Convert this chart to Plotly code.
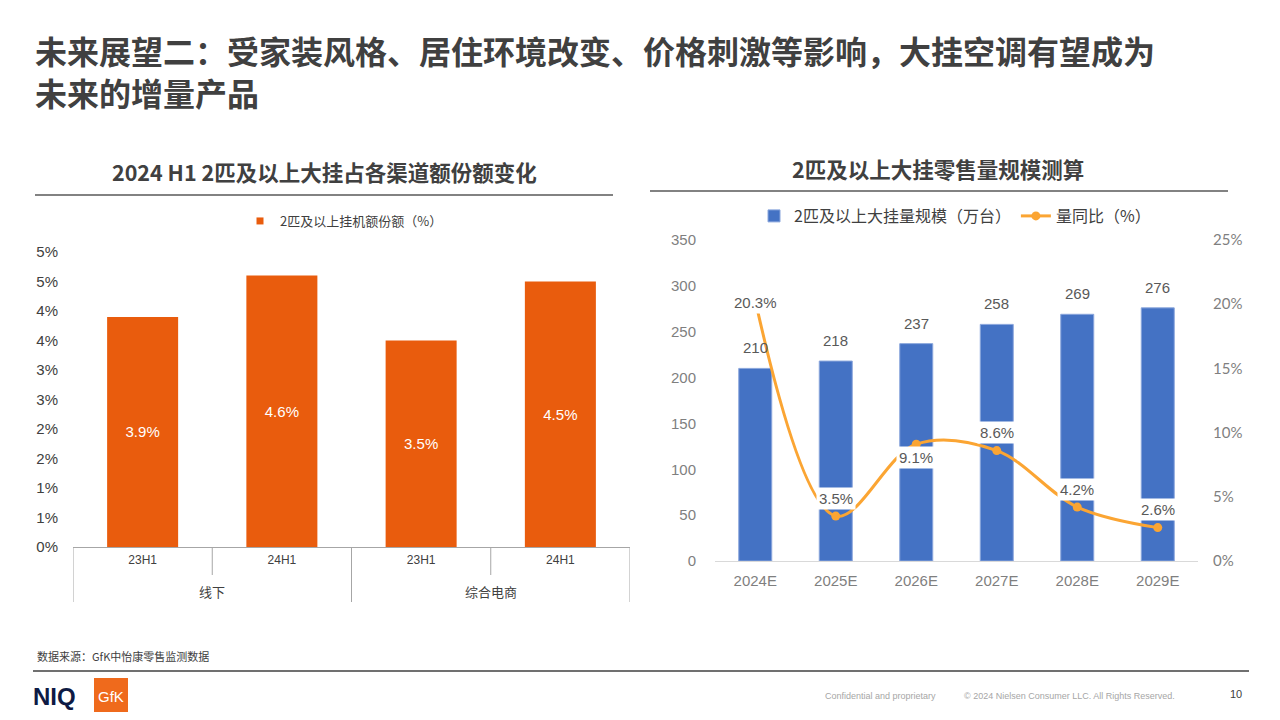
import plotly.graph_objects as go

# ---------------- data ----------------
main_title_lines = [
    "未来展望二：受家装风格、居住环境改变、价格刺激等影响，大挂空调有望成为",
    "未来的增量产品",
]

left_title = "2024 H1 2匹及以上大挂占各渠道额份额变化"
left_series_name = "2匹及以上挂机额份额（%）"
left_periods = ["23H1", "24H1", "23H1", "24H1"]
left_groups = ["线下", "综合电商"]
left_values = [3.9, 4.6, 3.5, 4.5]
left_ytick_vals = [0, 0.5, 1, 1.5, 2, 2.5, 3, 3.5, 4, 4.5, 5]
left_ytick_text = ["0%", "1%", "1%", "2%", "2%", "3%", "3%", "4%", "4%", "5%", "5%"]

right_title = "2匹及以上大挂零售量规模测算"
right_bar_name = "2匹及以上大挂量规模（万台）"
right_line_name = "量同比（%）"
right_years = ["2024E", "2025E", "2026E", "2027E", "2028E", "2029E"]
right_volume = [210, 218, 237, 258, 269, 276]
right_yoy = [20.3, 3.5, 9.1, 8.6, 4.2, 2.6]
right_yoy_label_shift = [-2, 18, -13, 18, 18, 18]

source_text = "数据来源：GfK中怡康零售监测数据"
footer_conf = "Confidential and proprietary"
footer_copy = "© 2024 Nielsen Consumer LLC. All Rights Reserved."
page_no = "10"

# ---------------- style ----------------
OFF = 8                      # browser body margin
W, H = 1280 - 2 * OFF, 720 - 2 * OFF
CJK = "Noto Sans CJK SC"
SANS = "Liberation Sans, Arial, Noto Sans CJK SC"
ORANGE = "#E95C0D"
BLUE = "#4472C4"
LINE_ORANGE = "#FBA533"
DARK = "#404040"
GREY = "#7F7F7F"


def px_x(x):
    return (x - OFF) / W


def px_y(y):
    return 1 - (y - OFF) / H


fig = go.Figure()

# ---------------- left chart ----------------
left_x = list(range(len(left_values)))
fig.add_trace(go.Bar(
    x=left_x, y=left_values, name=left_series_name,
    marker=dict(color=ORANGE, line=dict(width=0)),
    width=0.51,
    text=[f"{v:.1f}%" for v in left_values],
    textposition="inside", insidetextanchor="middle",
    textfont=dict(color="white", size=15, family=SANS),
    xaxis="x", yaxis="y", showlegend=False,
    hoverinfo="skip",
))
# legend entry (small square swatch)
fig.add_trace(go.Scatter(
    x=[None], y=[None], mode="markers", name=left_series_name,
    marker=dict(symbol="square", size=7, color=ORANGE),
    xaxis="x", yaxis="y", legend="legend",
))

# ---------------- right chart ----------------
fig.add_trace(go.Bar(
    x=right_years, y=right_volume, name=right_bar_name,
    marker=dict(color=BLUE, line=dict(color="#8AA6DC", width=1)),
    width=0.41,
    xaxis="x2", yaxis="y2", legend="legend2",
    hoverinfo="skip",
))
fig.add_trace(go.Scatter(
    x=right_years, y=right_yoy, name=right_line_name,
    mode="lines+markers",
    line=dict(color=LINE_ORANGE, width=3, shape="spline", smoothing=1.0),
    marker=dict(color=LINE_ORANGE, size=9),
    xaxis="x2", yaxis="y3", legend="legend2",
    hoverinfo="skip",
))

annotations = []
for yr, v in zip(right_years, right_volume):
    annotations.append(dict(
        x=yr, y=v, xref="x2", yref="y2", text=str(v), showarrow=False,
        yanchor="bottom", yshift=10,
        font=dict(size=15, color="#595959", family=SANS),
    ))
for yr, v, s in zip(right_years, right_yoy, right_yoy_label_shift):
    annotations.append(dict(
        x=yr, y=v, xref="x2", yref="y3", text=f"{v:.1f}%", showarrow=False,
        yanchor="middle", yshift=s, bgcolor="white", borderpad=2,
        font=dict(size=15, color="#595959", family=SANS),
    ))

n_per_group = len(left_values) // len(left_groups)
for gi, g in enumerate(left_groups):
    center = gi * n_per_group + (n_per_group - 1) / 2
    annotations.append(dict(
        x=center, y=px_y(591), xref="x", yref="paper", text=g, showarrow=False,
        yanchor="middle", font=dict(size=13, color=DARK, family=CJK),
    ))

title_y = [50, 92]
for line, ty in zip(main_title_lines, title_y):
    annotations.append(dict(
        x=px_x(34), y=px_y(ty), xref="paper", yref="paper", text=line,
        showarrow=False, xanchor="left", yanchor="middle", borderpad=0,
        font=dict(size=32, color=DARK, family=CJK, weight="bold")))

annotations += [
    dict(x=px_x(324), y=px_y(172), xref="paper", yref="paper", text=left_title,
         showarrow=False, xanchor="center", yanchor="middle",
         font=dict(size=21.5, color=DARK, family=CJK, weight="bold")),
    dict(x=px_x(938), y=px_y(168), xref="paper", yref="paper", text=right_title,
         showarrow=False, xanchor="center", yanchor="middle",
         font=dict(size=21.5, color=DARK, family=CJK, weight="bold")),
    dict(x=px_x(35), y=px_y(656), xref="paper", yref="paper", text=source_text,
         showarrow=False, xanchor="left", yanchor="middle",
         font=dict(size=11, color=DARK, family=CJK)),
    dict(x=px_x(823), y=px_y(696), xref="paper", yref="paper", text=footer_conf,
         showarrow=False, xanchor="left", yanchor="middle",
         font=dict(size=9, color="#A6A6A6", family="Liberation Sans Narrow, Liberation Sans")),
    dict(x=px_x(962), y=px_y(696), xref="paper", yref="paper", text=footer_copy,
         showarrow=False, xanchor="left", yanchor="middle",
         font=dict(size=9, color="#A6A6A6", family="Liberation Sans Narrow, Liberation Sans")),
    dict(x=px_x(1244), y=px_y(694), xref="paper", yref="paper", text=page_no,
         showarrow=False, xanchor="right", yanchor="middle",
         font=dict(size=11, color=DARK, family=SANS)),
    dict(x=px_x(31), y=px_y(696), xref="paper", yref="paper", text="<b>NIQ</b>",
         showarrow=False, xanchor="left", yanchor="middle",
         font=dict(size=24, color="#0E1A44", family="Liberation Sans")),
    dict(x=px_x(111), y=px_y(696), xref="paper", yref="paper", text="GfK",
         showarrow=False, xanchor="center", yanchor="middle",
         font=dict(size=15, color="white", family="Liberation Sans Narrow, Liberation Sans")),
]

shapes = []
shapes.append(dict(type="line", xref="paper", yref="paper",
                   x0=px_x(35), x1=px_x(613), y0=px_y(195), y1=px_y(195),
                   line=dict(color="#595959", width=1.3)))
shapes.append(dict(type="line", xref="paper", yref="paper",
                   x0=px_x(650), x1=px_x(1228), y0=px_y(191), y1=px_y(191),
                   line=dict(color="#595959", width=1.3)))
shapes.append(dict(type="line", xref="paper", yref="paper",
                   x0=px_x(33), x1=px_x(1249), y0=px_y(671), y1=px_y(671),
                   line=dict(color="#404040", width=1.5)))
shapes.append(dict(type="rect", xref="paper", yref="paper",
                   x0=px_x(94), x1=px_x(128), y0=px_y(713), y1=px_y(678),
                   fillcolor="#EF6A1C", line=dict(width=0), layer="below"))
for b in range(len(left_values) + 1):
    outer = (b % n_per_group == 0)
    shapes.append(dict(type="line", xref="x", yref="paper",
                       x0=b - 0.5, x1=b - 0.5,
                       y0=px_y(547), y1=px_y(602 if outer else 575),
                       line=dict(color="#A6A6A6", width=1)))

fig.update_layout(
    width=W, height=H,
    margin=dict(l=0, r=0, t=0, b=0, autoexpand=False),
    paper_bgcolor="white", plot_bgcolor="white",
    font=dict(family=SANS, color=DARK),
    annotations=annotations,
    shapes=shapes,
    xaxis=dict(
        domain=[px_x(73), px_x(630)], range=[-0.5, len(left_values) - 0.5],
        tickvals=left_x, ticktext=left_periods, showgrid=False, zeroline=False,
        showline=True, linecolor="#A6A6A6", linewidth=1, ticks="",
        tickfont=dict(size=12, color=DARK, family=SANS), anchor="y",
        ticklabelstandoff=2,
    ),
    yaxis=dict(
        domain=[px_y(547), px_y(252)], range=[0, 5],
        tickvals=left_ytick_vals, ticktext=left_ytick_text,
        showgrid=False, zeroline=False, showline=False, ticks="",
        tickfont=dict(size=15, color=DARK, family=SANS), anchor="x",
        ticklabelstandoff=14,
    ),
    xaxis2=dict(
        domain=[px_x(715), px_x(1198)], showgrid=False, zeroline=False,
        showline=True, linecolor="#D9D9D9", linewidth=1, ticks="",
        tickfont=dict(size=15, color=GREY, family=SANS), anchor="y2",
        ticklabelstandoff=6,
    ),
    yaxis2=dict(
        domain=[px_y(561), px_y(240)], range=[0, 350], dtick=50,
        showgrid=False, zeroline=False, showline=False, ticks="",
        tickfont=dict(size=15, color=GREY, family=SANS), anchor="x2",
        ticklabelstandoff=18,
    ),
    yaxis3=dict(
        domain=[px_y(561), px_y(240)], range=[0, 25], dtick=5, ticksuffix="%",
        overlaying="y2", side="right", anchor="x2",
        showgrid=False, zeroline=False, showline=False, ticks="",
        tickfont=dict(size=15, color=GREY, family="Lato, Liberation Sans"),
        ticklabelstandoff=14,
    ),
    legend=dict(
        x=px_x(344), y=px_y(221), xanchor="center", yanchor="middle",
        orientation="h", font=dict(size=13, color=DARK, family=CJK),
        itemwidth=30, bgcolor="rgba(0,0,0,0)",
    ),
    legend2=dict(
        x=px_x(955), y=px_y(216), xanchor="center", yanchor="middle",
        orientation="h", font=dict(size=16, color=DARK, family=CJK),
        bgcolor="rgba(0,0,0,0)",
    ),
    barmode="overlay",
    showlegend=True,
)

fig.write_html("out.html")
